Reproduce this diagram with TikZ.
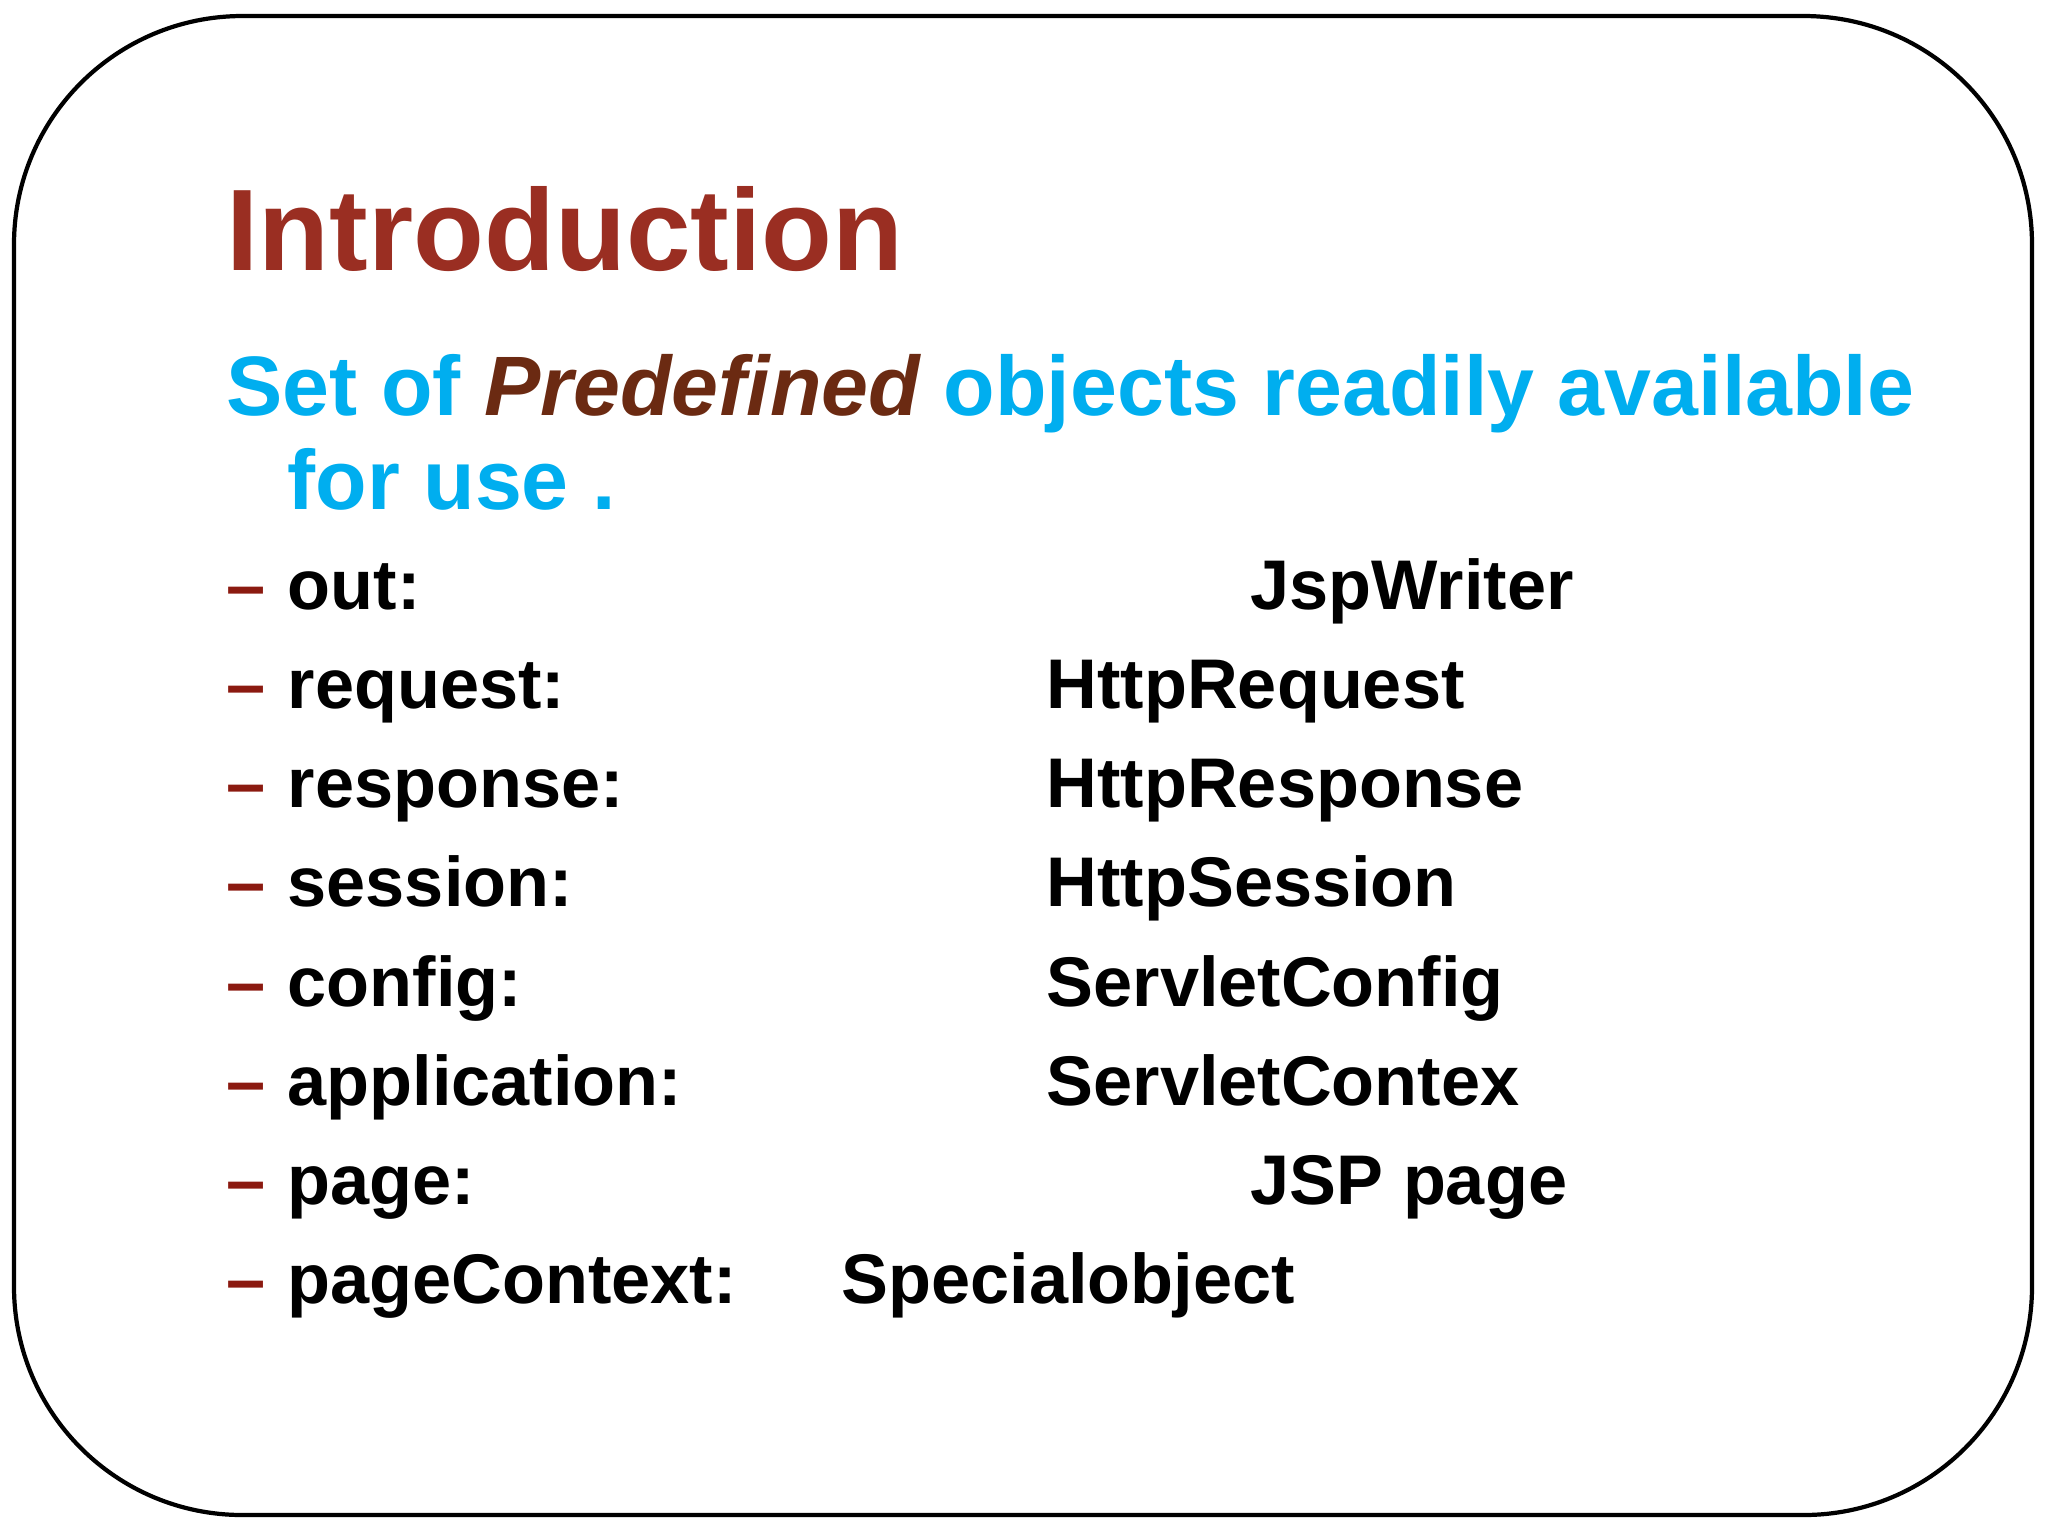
\documentclass[tikz,border=0pt]{standalone}
\usepackage{fontspec}
\setmainfont{Liberation Sans}
\definecolor{titlered}{HTML}{9A2E22}
\definecolor{subcyan}{HTML}{00AEEF}
\definecolor{dashred}{HTML}{8B1A10}
\definecolor{predef}{HTML}{6B2A12}
\tikzset{
  slide text/.style={inner sep=0, anchor=base west, font=\bfseries},
  item text/.style={slide text, font=\fontsize{20}{24}\selectfont\bfseries},
}
\begin{document}
\begin{tikzpicture}[x=0.1mm, y=-0.1mm]
        \useasboundingbox (0,0) rectangle (2048,1536);
        \draw[line width=1.2pt, rounded corners=65] (14,16) rectangle (2032,1515);

        \node[slide text, font=\fontsize{33}{38}\selectfont\bfseries, text=titlered] (title) at (226,270) {Introduction};
        \node[slide text, font=\fontsize{24}{28}\selectfont\bfseries, text=subcyan] (sub1) at (226,415)
          {Set of \textcolor{predef}{\itshape Predefined} objects readily available};
        \node[slide text, font=\fontsize{24}{28}\selectfont\bfseries, text=subcyan] (sub2) at (287,509) {for use .};

        \foreach \y/\name/\type/\tx [count=\i] in {
            609/out:/JspWriter/1250,
            708/request:/HttpRequest/1046,
            807/response:/HttpResponse/1046,
            906/session:/HttpSession/1046,
            1006/config:/ServletConfig/1046,
            1105/application:/ServletContex/1046,
            1204/page:/JSP page/1250,
            1303/pageContext:/Specialobject/841} {
          \node[item text, text=dashred] (dash\i) at (226,\y) {–};
          \node[item text] (name\i) at (287,\y) {\name};
          \node[item text] (type\i) at (\tx,\y) {\type};
        }
\end{tikzpicture}
\end{document}
